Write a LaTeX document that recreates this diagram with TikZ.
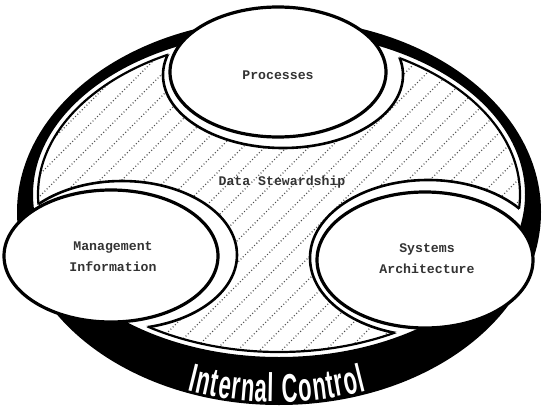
\documentclass[tikz,border=0pt]{standalone}
\usepackage{fontspec}
\usetikzlibrary{decorations.text}
\newfontfamily\labelfont{Liberation Mono}
\newfontfamily\bandfont[FakeStretch=0.55]{Liberation Sans}
\begin{document}
\begin{tikzpicture}[x=1pt,y=1pt,
  ringband/.style={fill=black,even odd rule},
  mainoval/.style={draw=black,fill=white,line width=3.2pt},
  halooval/.style={draw=black,fill=white,line width=2.6pt},
  regionline/.style={draw=black,line width=2.2pt},
  hatchline/.style={black!70,line width=1.2pt,dash pattern=on 0.9pt off 2.3pt},
  oval label/.style={font=\labelfont\bfseries\fontsize{13.2}{21}\selectfont,text=black!80,align=center,inner sep=0pt}]
  \useasboundingbox (0,0) rectangle (554,-412);
  \fill[white] (0,0) rectangle (554,-412);

  % geometry of the ring and of the three ovals
  \def\ringouter{(279,-212) ellipse [x radius=262,y radius=193]}
  \def\ringinner{(279,-194.5) ellipse [x radius=246,y radius=162.5]}
  \def\region{(279,-194.5) ellipse [x radius=241,y radius=157.5]}
  \def\halotop{(283,-75) ellipse [x radius=120,y radius=73]}
  \def\haloleft{(122,-255) ellipse [x radius=115,y radius=74]}
  \def\haloright{(428,-258) ellipse [x radius=118,y radius=78]}

  % black ring
  \path[ringband] \ringouter \ringinner;

  % hatched data stewardship region, cut round the ovals
  \begin{scope}
    \clip \region;
    \foreach \c in {-360,-338,...,480}
      \draw[hatchline] (\c,-420) -- ++(520,520);
    \path[halooval] \halotop;
    \path[halooval] \haloleft;
    \path[halooval] \haloright;
  \end{scope}
  \begin{scope}[even odd rule]
    \clip (-20,20) rectangle (580,-440) \halotop \haloleft \haloright;
    \path[regionline] \region;
  \end{scope}

  % the three ovals
  \path[mainoval] (278,-72) ellipse [x radius=108,y radius=65];
  \path[mainoval] (111,-256) ellipse [x radius=107,y radius=66];
  \path[mainoval] (425,-260) ellipse [x radius=108,y radius=68];

  % labels
  \node[oval label] (processes) at (278,-75) {Processes};
  \node[oval label] (mgmt) at (113,-257) {Management\\Information};
  \node[oval label] (systems) at (427,-259) {Systems\\Architecture};
  \node[oval label] (stewardship) at (282,-182) {Data Stewardship};

  % curved title in the band, letters spread over the arc
  \path[decorate,decoration={text along path,text align=fit to path,text color=white,
      text={|\bandfont\bfseries\fontsize{40}{40}\selectfont|Internal Control}}]
    (277,-42) ++(255.6:360) arc [start angle=255.6,end angle=284.4,radius=360];
\end{tikzpicture}
\end{document}
